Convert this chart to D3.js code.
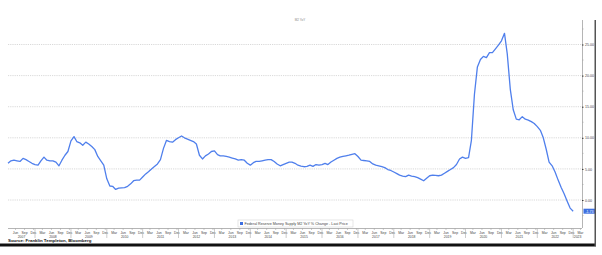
<!DOCTYPE html>
<html>
<head>
<meta charset="utf-8">
<script src="https://cdnjs.cloudflare.com/ajax/libs/d3/7.8.5/d3.min.js"></script>
<style>
	body { margin: 0; background: #fff; }
	svg { display: block; font-family: "Liberation Sans", Arial, sans-serif; }
	.grid line { stroke: #cfcfcf; stroke-width: 0.8; stroke-dasharray: 1.2 1; }
	.mlabel, .ylabel, .rlabel { fill: #444; }
</style>
</head>
<body>
<div id="chart"></div>
<script>

// data, monthly from Apr 2007
var start_month = "2007-04";
var m2_yoy = [
	5.9, 6.3, 6.4, 6.3, 6.2, 6.7, 6.5, 6.2, 5.9,
	5.7, 5.6, 6.3, 6.9, 6.4, 6.3, 6.3, 6.1, 5.5, 6.4, 7.2, 7.8,
	9.5, 10.2, 9.4, 9.2, 8.8, 9.3, 9.0, 8.6, 8.1, 7.0, 6.3, 5.6,
	3.4, 2.25, 2.2, 1.7, 1.9, 1.95, 2.0, 2.2, 2.6, 3.1, 3.2, 3.2,
	3.7, 4.2, 4.55, 5.0, 5.4, 5.8, 6.5, 8.3, 9.6, 9.4, 9.3, 9.7,
	10.0, 10.3, 10.0, 9.8, 9.6, 9.4, 9.0, 7.2, 6.6, 7.1, 7.4, 7.8,
	7.9, 7.3, 7.1, 7.1, 7.0, 6.9, 6.75, 6.6, 6.4, 6.5, 6.4, 5.9,
	5.6, 6.0, 6.2, 6.2, 6.3, 6.4, 6.5, 6.5, 6.2, 5.8, 5.5, 5.7,
	5.9, 6.1, 6.1, 5.9, 5.6, 5.45, 5.35, 5.4, 5.6, 5.4, 5.7, 5.6,
	5.7, 5.9, 5.7, 6.1, 6.4, 6.7, 6.9, 7.0, 7.1, 7.2, 7.35, 7.45,
	7.0, 6.4, 6.35, 6.3, 6.2, 5.8, 5.6, 5.5, 5.35, 5.2, 4.9, 4.75,
	4.5, 4.25, 4.0, 3.85, 3.75, 4.0, 3.85, 3.75, 3.6, 3.35, 3.1, 3.5,
	3.9, 4.0, 3.95, 3.9, 4.0, 4.3, 4.6, 4.9, 5.2, 5.7, 6.6, 6.9,
	6.7, 6.8, 9.6, 17.0, 21.4, 22.6, 23.1, 22.9, 23.7, 23.7, 24.3, 24.9,
	25.6, 26.8, 23.5, 17.8, 14.5, 13.0, 12.9, 13.4, 13.0, 12.85, 12.6, 12.3,
	11.8, 11.2, 10.1, 8.2, 6.1, 5.5, 4.5, 3.2, 2.0, 1.0, -0.2, -1.3,
	-1.8
];
var last_price = "-1.73";

var y_ticks = [0, 5, 10, 15, 20, 25];
var month_names = ["Mar", "Jun", "Sep", "Dec"];
var years = d3.range(2007, 2024);

var title_text = "M2 YoY";
var legend_text = "Federal Reserve Money Supply M2 YoY % Change - Last Price";
var source_text = "Source: Franklin Templeton, Bloomberg";

// magic numbers
var width = 602,
	height = 255,
	plot = {left: 8, right: 582, top: 20, bottom: 228};

var svg = d3.select("#chart").append("svg")
		.attr("width", width)
		.attr("height", height);

var parse = d3.timeParse("%Y-%m");
var t0 = parse(start_month);

var data = m2_yoy.map(function(v, i){
	return {date: d3.timeMonth.offset(t0, i), value: v};
});

var xScale = d3.scaleTime()
		.domain([t0, new Date(2023, 3, 1)])
		.range([plot.left, plot.right]);

var yScale = d3.scaleLinear()
		.domain([-4.5, 28.94])
		.range([plot.bottom, plot.top]);

// title (tiny, as in the screenshot)
svg.append("text")
		.attr("x", 300)
		.attr("y", 21)
		.attr("text-anchor", "middle")
		.attr("font-size", 3)
		.attr("fill", "#888")
		.text(title_text);

// gridlines
svg.append("g")
		.attr("class", "grid")
	.selectAll("line")
		.data(y_ticks)
	.enter().append("line")
		.attr("x1", plot.left)
		.attr("x2", plot.right)
		.attr("y1", function(d){ return yScale(d); })
		.attr("y2", function(d){ return yScale(d); });

// right axis
var yAxis = d3.axisRight(yScale)
		.tickValues(y_ticks)
		.tickSize(1.5)
		.tickPadding(1.5)
		.tickFormat(d3.format(".2f"));

var gy = svg.append("g")
		.attr("transform", "translate(" + plot.right + ",0)")
		.call(yAxis);

gy.select(".domain")
		.attr("stroke", "#b5b5b5")
		.attr("d", "M0.5," + plot.top + "V" + plot.bottom);
gy.selectAll(".tick line").attr("stroke", "#333");
gy.selectAll(".tick text")
		.attr("class", "rlabel")
		.attr("font-size", 3.6)
		.attr("font-family", null);

// minor ticks
gy.selectAll(".minor")
		.data(d3.range(-2.5, 28, 2.5).filter(function(d){ return d % 5 != 0; }))
	.enter().append("line")
		.attr("class", "minor")
		.attr("x1", 0.5)
		.attr("x2", 1.5)
		.attr("y1", function(d){ return yScale(d); })
		.attr("y2", function(d){ return yScale(d); })
		.attr("stroke", "#999")
		.attr("stroke-width", 0.6);

// bottom axis line
svg.append("line")
		.attr("x1", plot.left)
		.attr("x2", plot.right)
		.attr("y1", plot.bottom + 0.5)
		.attr("y2", plot.bottom + 0.5)
		.attr("stroke", "#b5b5b5");

// month labels
var month_ticks = d3.timeMonths(t0, new Date(2023, 3, 1))
		.filter(function(d){ return d.getMonth() % 3 == 2; });

var gx = svg.append("g");

gx.selectAll(".mtick")
		.data(month_ticks)
	.enter().append("line")
		.attr("x1", function(d){ return xScale(d) + 1.5; })
		.attr("x2", function(d){ return xScale(d) + 1.5; })
		.attr("y1", plot.bottom + 0.5)
		.attr("y2", plot.bottom + 2)
		.attr("stroke", "#999")
		.attr("stroke-width", 0.5);

gx.selectAll(".mlabel")
		.data(month_ticks)
	.enter().append("text")
		.attr("class", "mlabel")
		.attr("x", function(d){ return xScale(d) + 1.5; })
		.attr("y", plot.bottom + 5.5)
		.attr("text-anchor", "middle")
		.attr("font-size", 3.4)
		.text(function(d){ return month_names[Math.floor(d.getMonth() / 3)]; });

// year separators and labels
gx.selectAll(".ysep")
		.data(years.slice(1))
	.enter().append("line")
		.attr("x1", function(d){ return xScale(new Date(d, 0, 1)); })
		.attr("x2", function(d){ return xScale(new Date(d, 0, 1)); })
		.attr("y1", plot.bottom + 0.5)
		.attr("y2", plot.bottom + 10)
		.attr("stroke", "#aaa")
		.attr("stroke-width", 0.6);

gx.selectAll(".ylabel")
		.data(years)
	.enter().append("text")
		.attr("class", "ylabel")
		.attr("x", function(d){
			var a = Math.max(xScale(new Date(d, 0, 1)), plot.left),
				b = Math.min(xScale(new Date(d + 1, 0, 1)), plot.right);
			return (a + b) / 2;
		})
		.attr("y", plot.bottom + 9.5)
		.attr("text-anchor", "middle")
		.attr("font-size", 3.4)
		.text(function(d){ return d; });

// the line
var line = d3.line()
		.x(function(d){ return xScale(d.date); })
		.y(function(d){ return yScale(d.value); })
		.curve(d3.curveLinear);

svg.append("path")
		.datum(data)
		.attr("d", line)
		.attr("fill", "none")
		.attr("stroke", "#4f7fec")
		.attr("stroke-width", 1.3)
		.attr("stroke-linejoin", "round");

// last price box
var last = data[data.length - 1];
svg.append("rect")
		.attr("x", plot.right + 1.5)
		.attr("y", yScale(last.value) - 2.5)
		.attr("width", 12)
		.attr("height", 5)
		.attr("fill", "#3d6fe0");

svg.append("text")
		.attr("x", plot.right + 7.5)
		.attr("y", yScale(last.value) + 1.3)
		.attr("text-anchor", "middle")
		.attr("font-size", 3.6)
		.attr("fill", "#fff")
		.text(last_price);

// legend
var legend = svg.append("g")
		.attr("transform", "translate(238,220)");

legend.append("rect")
		.attr("width", 115)
		.attr("height", 7)
		.attr("fill", "#fff")
		.attr("stroke", "#d5d5d5")
		.attr("stroke-width", 0.6);

legend.append("rect")
		.attr("x", 2)
		.attr("y", 2)
		.attr("width", 3)
		.attr("height", 3)
		.attr("fill", "#3d6fe0");

legend.append("text")
		.attr("x", 6.5)
		.attr("y", 4.8)
		.attr("font-size", 3.7)
		.attr("fill", "#444")
		.text(legend_text);

// source + frame
svg.append("text")
		.attr("x", 8)
		.attr("y", 242)
		.attr("font-size", 4.4)
		.attr("font-weight", "bold")
		.attr("fill", "#111")
		.text(source_text);

svg.append("rect")
		.attr("x", 0)
		.attr("y", 243.5)
		.attr("width", 596)
		.attr("height", 3)
		.attr("fill", "#111");

svg.append("rect")
		.attr("x", 594.5)
		.attr("y", 20)
		.attr("width", 1.5)
		.attr("height", 226)
		.attr("fill", "#555");

</script>
</body>
</html>
